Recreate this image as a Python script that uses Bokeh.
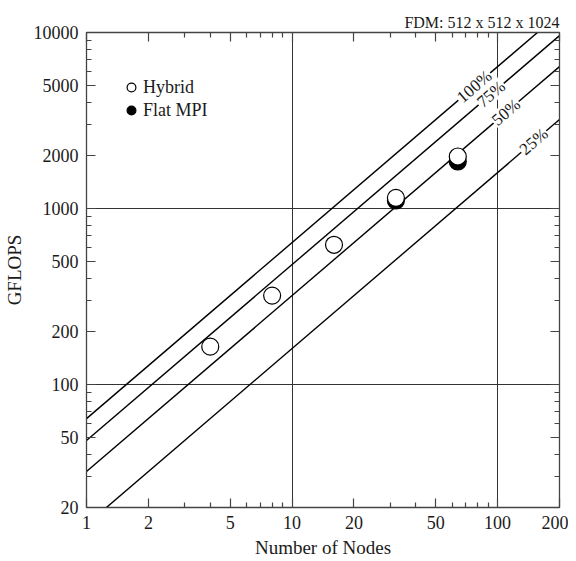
import math
from bokeh.plotting import figure
from bokeh.models import (FixedTicker, LogAxis, Legend, LegendItem,
                          ColumnDataSource, Range1d)
from bokeh.core.properties import value
from bokeh.embed import file_html
from bokeh.resources import INLINE

# ---- data ----
hybrid_nodes = [4, 8, 16, 32, 64]
hybrid_gflops = [164, 320, 622, 1150, 1975]
flat_nodes = [32, 64]
flat_gflops = [1110, 1850]

peak_per_node = 64.0          # GFLOPS per node at 100 %
efficiency_labels = ["100%", "75%", "50%", "25%"]
efficiency = [1.00, 0.75, 0.50, 0.25]
label_nodes = [77, 93, 110, 150]   # where each % label sits on its line
node_range = [1, 200]

x_ticks = [1, 2, 5, 10, 20, 50, 100, 200]
x_minor = [3, 4, 6, 7, 8, 9, 30, 40, 60, 70, 80, 90]
y_ticks = [20, 50, 100, 200, 500, 1000, 2000, 5000, 10000]
y_minor = [30, 40, 60, 70, 80, 90, 300, 400, 600, 700, 800, 900,
           3000, 4000, 6000, 7000, 8000, 9000]

FONT = "Liberation Serif"
INK = "#1a1a1a"
FW, FH = 473, 475

p = figure(frame_width=FW, frame_height=FH,
           x_axis_type="log", y_axis_type="log",
           x_range=Range1d(1, 200), y_range=Range1d(20, 10000),
           output_backend="svg", toolbar_location=None,
           min_border_left=78, min_border_right=9,
           min_border_top=32, min_border_bottom=54)

p.title.text = "FDM: 512 x 512 x 1024"
p.title.align = "right"
p.title.text_font = FONT
p.title.text_font_size = "16px"
p.title.text_font_style = "normal"
p.title.text_color = INK
p.title.standoff = 4

p.outline_line_color = "#444444"
p.outline_line_width = 1.3
p.background_fill_color = "white"

# grids: only decade lines
p.xgrid.ticker = FixedTicker(ticks=[10, 100])
p.ygrid.ticker = FixedTicker(ticks=[100, 1000])
for g in (p.xgrid, p.ygrid):
    g.grid_line_color = "#333333"
    g.grid_line_width = 1
    g.grid_line_alpha = 1

def style_axis(ax, ticks, minor, show_labels=True):
    ax.ticker = FixedTicker(ticks=ticks, minor_ticks=minor)
    ax.major_tick_in = 9
    ax.major_tick_out = 0
    ax.minor_tick_in = 5
    ax.minor_tick_out = 0
    ax.axis_line_color = "#444444"
    ax.major_tick_line_color = "#444444"
    ax.minor_tick_line_color = "#444444"
    ax.major_tick_line_width = 1.2
    ax.minor_tick_line_width = 1.2
    ax.major_label_text_font = FONT
    ax.major_label_text_font_size = "18px"
    ax.major_label_text_color = INK
    if not show_labels:
        ax.major_label_text_font_size = "0px"
        ax.major_label_text_alpha = 0
        ax.major_label_standoff = 0
        ax.axis_label_standoff = 0
        ax.major_label_overrides = {t: "" for t in ticks}

xa = p.xaxis[0]
ya = p.yaxis[0]
style_axis(xa, x_ticks, x_minor)
style_axis(ya, y_ticks, y_minor)
xa.major_label_overrides = {t: str(t) for t in x_ticks}
ya.major_label_overrides = {t: str(t) for t in y_ticks}
xa.major_label_standoff = 8
ya.major_label_standoff = 8
xa.axis_label = "Number of Nodes"
ya.axis_label = "GFLOPS"
for ax in (xa, ya):
    ax.axis_label_text_font = FONT
    ax.axis_label_text_font_size = "19px"
    ax.axis_label_text_font_style = "normal"
    ax.axis_label_text_color = INK
xa.axis_label_standoff = 5
ya.axis_label_standoff = 6

top = LogAxis()
right = LogAxis()
style_axis(top, x_ticks, x_minor, show_labels=False)
style_axis(right, y_ticks, y_minor, show_labels=False)
p.add_layout(top, "above")
p.add_layout(right, "right")

# efficiency lines
for eff in efficiency:
    ys = [peak_per_node * eff * n for n in node_range]
    p.line(node_range, ys, line_color="black", line_width=1.4)

# labels on the lines, with a white patch that breaks the line
ang = math.atan(176.0 / 205.6)
lab_src = ColumnDataSource(dict(
    x=label_nodes,
    y=[peak_per_node * e * n for e, n in zip(efficiency, label_nodes)],
    t=efficiency_labels,
    w=[len(t) * 9 + 6 for t in efficiency_labels]))
p.rect(x="x", y="y", width="w", height=17, width_units="screen",
       height_units="screen", angle=ang, source=lab_src,
       fill_color="white", line_color=None)
p.text(x="x", y="y", text="t", source=lab_src, angle=ang,
       text_align="center", text_baseline="middle",
       text_font=value(FONT), text_font_size="17px", text_color=INK)

# data points (flat first so hybrid sits on top)
r_flat = p.scatter(flat_nodes, flat_gflops, marker="circle", size=17,
                   fill_color="black", line_color="black", line_width=1.2)
r_hyb = p.scatter(hybrid_nodes, hybrid_gflops, marker="circle", size=17,
                  fill_color="white", line_color="black", line_width=1.2)

legend = Legend(items=[LegendItem(label="Hybrid", renderers=[r_hyb]),
                       LegendItem(label="Flat MPI", renderers=[r_flat])],
                location=(33, 386))
legend.border_line_color = None
legend.background_fill_alpha = 0
legend.label_text_font = FONT
legend.label_text_font_size = "18px"
legend.label_text_color = INK
legend.glyph_width = 24
legend.glyph_height = 22
legend.spacing = 1
legend.label_standoff = 0
legend.padding = 2
p.add_layout(legend, "center")

open("out.html", "w").write(file_html(p, INLINE))
